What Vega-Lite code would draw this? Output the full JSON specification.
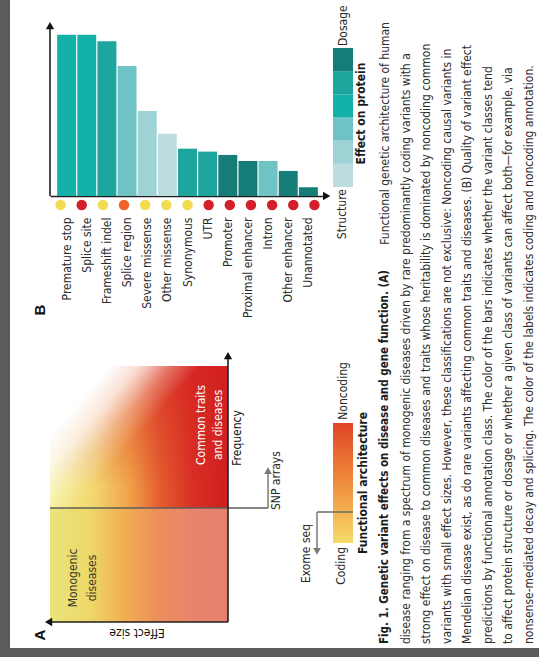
{
  "$schema": "https://vega.github.io/schema/vega-lite/v6.json",
  "width": 529,
  "height": 648,
  "padding": {"left": 10, "top": 0, "right": 0, "bottom": 9},
  "background": "#5b5b5d",
  "view": {"fill": "#ffffff", "stroke": null},
  "config": {
    "font": "DejaVu Sans Condensed, Liberation Sans Narrow, Liberation Sans, sans-serif",
    "axis": {"labelFont": "DejaVu Sans Condensed, Liberation Sans Narrow, Liberation Sans, sans-serif",
             "titleFont": "DejaVu Sans Condensed, Liberation Sans Narrow, Liberation Sans, sans-serif"}
  },
  "datasets": {
    "variant_classes": [
      {"variant_class": "Premature stop", "prediction_quality": 92.7, "effect_level": 4, "annotation": "Coding"},
      {"variant_class": "Splice site", "prediction_quality": 92.7, "effect_level": 4, "annotation": "Noncoding"},
      {"variant_class": "Frameshift indel", "prediction_quality": 88.9, "effect_level": 5, "annotation": "Coding"},
      {"variant_class": "Splice region", "prediction_quality": 74.7, "effect_level": 3, "annotation": "Mixed"},
      {"variant_class": "Severe missense", "prediction_quality": 48.9, "effect_level": 2, "annotation": "Coding"},
      {"variant_class": "Other missense", "prediction_quality": 35.8, "effect_level": 1, "annotation": "Coding"},
      {"variant_class": "Synonymous", "prediction_quality": 27.2, "effect_level": 5, "annotation": "Coding"},
      {"variant_class": "UTR", "prediction_quality": 25.5, "effect_level": 5, "annotation": "Noncoding"},
      {"variant_class": "Promoter", "prediction_quality": 23.6, "effect_level": 6, "annotation": "Noncoding"},
      {"variant_class": "Proximal enhancer", "prediction_quality": 20.1, "effect_level": 6, "annotation": "Noncoding"},
      {"variant_class": "Intron", "prediction_quality": 20.1, "effect_level": 3, "annotation": "Noncoding"},
      {"variant_class": "Other enhancer", "prediction_quality": 14.4, "effect_level": 6, "annotation": "Noncoding"},
      {"variant_class": "Unannotated", "prediction_quality": 5.0, "effect_level": 6, "annotation": "Noncoding"}
    ],
    "effect_levels": [
      {"level": 1, "effect": "Structure"},
      {"level": 2, "effect": ""},
      {"level": 3, "effect": ""},
      {"level": 4, "effect": ""},
      {"level": 5, "effect": ""},
      {"level": 6, "effect": "Dosage"}
    ],
    "caption_lines": [
      {"line": 1, "heading": "Fig. 1. Genetic variant effects on disease and gene function. (A)", "body": "Functional genetic architecture of human"},
      {"line": 2, "heading": "", "body": "disease ranging from a spectrum of monogenic diseases driven by rare predominantly coding variants with a"},
      {"line": 3, "heading": "", "body": "strong effect on disease to common diseases and traits whose heritability is dominated by noncoding common"},
      {"line": 4, "heading": "", "body": "variants with small effect sizes. However, these classifications are not exclusive: Noncoding causal variants in"},
      {"line": 5, "heading": "", "body": "Mendelian disease exist, as do rare variants affecting common traits and diseases. (B) Quality of variant effect"},
      {"line": 6, "heading": "", "body": "predictions by functional annotation class. The color of the bars indicates whether the variant classes tend"},
      {"line": 7, "heading": "", "body": "to affect protein structure or dosage or whether a given class of variants can affect both\u2014for example, via"},
      {"line": 8, "heading": "", "body": "nonsense-mediated decay and splicing. The color of the labels indicates coding and noncoding annotation."}
    ]
  },
  "layer": [
    {
      "layer": [
        {
          "data": {"name": "variant_classes"},
          "mark": {"type": "bar"},
          "encoding": {
            "x": {"field": "variant_class", "type": "nominal", "sort": null,
                  "scale": {"range": [40, 315], "paddingInner": 0.06, "paddingOuter": 0.355},
                  "axis": {"orient": "bottom", "offset": -452, "title": null, "labelAngle": -90, "labelPadding": 21,
                           "ticks": false, "domainColor": "#1f1f1f", "domainWidth": 1.6, "labelFontSize": 12,
                           "labelColor": "#2b2b2b", "labelLimit": 200}},
            "y": {"field": "prediction_quality", "type": "quantitative",
                  "scale": {"domain": [0, 112.64], "range": [196, 0], "nice": false, "zero": true},
                  "axis": {"orient": "left", "offset": -40, "title": "Effect prediction quality", "domain": false,
                           "ticks": false, "labels": false, "grid": false, "titleFontSize": 12.5,
                           "titleFontWeight": "bold", "titleColor": "#111111", "titlePadding": 5, "titleY": 112}},
            "color": {"field": "effect_level", "type": "ordinal",
                      "scale": {"domain": [1, 2, 3, 4, 5, 6],
                                "range": ["#bddcdf", "#9fd2d5", "#6fc3c4", "#14b1a9", "#1ea59e", "#167c77"]},
                      "legend": null}
          }
        },
        {
          "data": {"name": "variant_classes"},
          "mark": {"type": "circle", "size": 110, "opacity": 1},
          "encoding": {
            "x": {"field": "variant_class", "type": "nominal", "sort": null,
                  "scale": {"range": [40, 315], "paddingInner": 0.06, "paddingOuter": 0.355}, "axis": null},
            "y": {"datum": -5.2, "type": "quantitative", "axis": null},
            "color": {"field": "annotation", "type": "nominal",
                      "scale": {"domain": ["Coding", "Mixed", "Noncoding"], "range": ["#f1dc52", "#f2622a", "#d4202a"]},
                      "legend": null}
          }
        },
        {
          "data": {"values": [{"axis": "Effect prediction quality"}]},
          "mark": {"type": "rule", "color": "#1f1f1f", "strokeWidth": 1.6},
          "encoding": {
            "x": {"datum": 0, "type": "quantitative", "scale": {"domain": [0, 1], "range": [40, 315]}, "axis": null},
            "y": {"datum": 0, "type": "quantitative", "axis": null},
            "y2": {"datum": 96}
          }
        },
        {
          "data": {"values": [{"axis": "Effect prediction quality"}]},
          "mark": {"type": "point", "shape": "triangle-up", "filled": true, "size": 70, "color": "#111111", "opacity": 1},
          "encoding": {
            "x": {"datum": 0, "type": "quantitative", "scale": {"domain": [0, 1], "range": [40, 315]}, "axis": null},
            "y": {"datum": 97.9, "type": "quantitative", "axis": null}
          }
        },
        {
          "data": {"values": [{"axis": "Variant class"}]},
          "mark": {"type": "point", "shape": "triangle-right", "filled": true, "size": 70, "color": "#111111", "opacity": 1},
          "encoding": {
            "x": {"datum": 1.006, "type": "quantitative", "scale": {"domain": [0, 1], "range": [40, 315]}, "axis": null},
            "y": {"datum": 0, "type": "quantitative", "axis": null}
          }
        },
        {
          "data": {"values": [{"panel": "B"}]},
          "mark": {"type": "text", "angle": 270, "align": "center", "baseline": "middle",
                   "fontSize": 15, "fontWeight": "bold", "font": "Liberation Sans", "color": "#111111"},
          "encoding": {
            "x": {"datum": -0.036, "type": "quantitative", "scale": {"domain": [0, 1], "range": [40, 315]}, "axis": null},
            "y": {"datum": -65.5, "type": "quantitative", "axis": null},
            "text": {"field": "panel"}
          }
        }
      ],
      "resolve": {"scale": {"x": "independent", "color": "independent"}, "axis": {"x": "independent"}}
    },
    {
      "layer": [
        {
          "data": {"name": "effect_levels"},
          "mark": {"type": "rect"},
          "encoding": {
            "x": {"datum": 0, "type": "quantitative", "scale": {"domain": [0, 1], "range": [323, 343]}, "axis": null},
            "x2": {"datum": 1},
            "y": {"field": "level", "type": "ordinal",
                  "scale": {"domain": [6, 5, 4, 3, 2, 1], "range": [48, 187], "paddingInner": 0, "paddingOuter": 0},
                  "axis": null},
            "color": {"field": "level", "type": "ordinal",
                      "scale": {"domain": [1, 2, 3, 4, 5, 6],
                                "range": ["#bddcdf", "#9fd2d5", "#6fc3c4", "#14b1a9", "#1ea59e", "#167c77"]},
                      "legend": null}
          }
        },
        {
          "data": {"name": "effect_levels"},
          "transform": [{"filter": "datum.level == 6"}],
          "mark": {"type": "text", "angle": 270, "align": "left", "baseline": "middle", "dx": 2,
                   "fontSize": 12, "color": "#2b2b2b"},
          "encoding": {
            "x": {"datum": 0.5, "type": "quantitative", "axis": null},
            "y": {"field": "level", "type": "ordinal", "bandPosition": 0, "axis": null},
            "text": {"field": "effect"}
          }
        },
        {
          "data": {"name": "effect_levels"},
          "transform": [{"filter": "datum.level == 1"}],
          "mark": {"type": "text", "angle": 270, "align": "right", "baseline": "middle", "dx": -2,
                   "fontSize": 12, "color": "#2b2b2b"},
          "encoding": {
            "x": {"datum": 0.45, "type": "quantitative", "axis": null},
            "y": {"field": "level", "type": "ordinal", "bandPosition": 1, "axis": null},
            "text": {"field": "effect"}
          }
        },
        {
          "data": {"values": [{"title": "Effect on protein"}]},
          "mark": {"type": "text", "angle": 270, "align": "center", "baseline": "middle", "dx": 4,
                   "fontSize": 12, "fontWeight": "bold", "color": "#1a1a1a"},
          "encoding": {
            "x": {"datum": 1.4, "type": "quantitative", "axis": null},
            "y": {"datum": 4, "type": "ordinal", "bandPosition": 1, "axis": null},
            "text": {"field": "title"}
          }
        }
      ]
    },
    {
      "layer": [
        {
          "data": {"values": [{"region": "rare variants"}]},
          "mark": {"type": "rect", "fill": {"gradient": "linear", "x1": 0, "y1": 0, "x2": 1, "y2": 0,
                   "stops": [{"offset": 0, "color": "#e9e57a"}, {"offset": 0.22, "color": "#eed868"},
                             {"offset": 0.42, "color": "#f0ae52"}, {"offset": 0.6, "color": "#ec9058"},
                             {"offset": 0.8, "color": "#e8846c"}, {"offset": 1, "color": "#e6806e"}]}},
          "encoding": {
            "x": {"datum": 1, "type": "quantitative", "scale": {"domain": [0, 1], "range": [218, 40], "nice": false}, "axis": null},
            "x2": {"datum": 0},
            "y": {"datum": 0, "type": "quantitative", "scale": {"domain": [0, 1], "range": [622, 366], "nice": false}, "axis": null},
            "y2": {"datum": 0.445}
          }
        },
        {
          "data": {"values": [{"region": "common variants"}]},
          "mark": {"type": "rect", "fill": {"gradient": "linear", "x1": 0, "y1": 0, "x2": 1, "y2": 0,
                   "stops": [{"offset": 0, "color": "#f3ee8c"}, {"offset": 0.25, "color": "#f3d670"},
                             {"offset": 0.45, "color": "#f0a048"}, {"offset": 0.62, "color": "#e45c30"},
                             {"offset": 0.8, "color": "#d83024"}, {"offset": 1, "color": "#cf1e20"}]}},
          "encoding": {
            "x": {"datum": 1, "type": "quantitative", "axis": null},
            "x2": {"datum": 0},
            "y": {"datum": 0.445, "type": "quantitative", "axis": null},
            "y2": {"datum": 1}
          }
        },
        {
          "data": {"values": [{"region": "common variants"}]},
          "mark": {"type": "rect", "fill": {"gradient": "linear", "x1": 0, "y1": 0, "x2": 0, "y2": 1,
                   "stops": [{"offset": 0, "color": "rgba(212,32,32,0.55)"}, {"offset": 0.45, "color": "rgba(212,32,32,0.25)"},
                             {"offset": 0.85, "color": "rgba(212,32,32,0)"}, {"offset": 1, "color": "rgba(212,32,32,0)"}]}},
          "encoding": {
            "x": {"datum": 1, "type": "quantitative", "axis": null},
            "x2": {"datum": 0},
            "y": {"datum": 0.445, "type": "quantitative", "axis": null},
            "y2": {"datum": 1}
          }
        },
        {
          "data": {"values": [{"region": "common variants"}]},
          "mark": {"type": "rect", "fill": {"gradient": "linear", "x1": 0, "y1": 0, "x2": 1.4, "y2": 1,
                   "stops": [{"offset": 0, "color": "rgba(255,255,255,1)"}, {"offset": 0.16, "color": "rgba(255,255,255,1)"},
                             {"offset": 0.24, "color": "rgba(255,255,255,0.78)"}, {"offset": 0.32, "color": "rgba(255,255,255,0.3)"},
                             {"offset": 0.4, "color": "rgba(255,255,255,0)"}, {"offset": 1, "color": "rgba(255,255,255,0)"}]}},
          "encoding": {
            "x": {"datum": 1, "type": "quantitative", "axis": null},
            "x2": {"datum": 0},
            "y": {"datum": 0.445, "type": "quantitative", "axis": null},
            "y2": {"datum": 1}
          }
        },
        {
          "data": {"values": [{"method": "SNP arrays"}]},
          "mark": {"type": "rule", "color": "#5e5e5e", "strokeWidth": 1.5},
          "encoding": {
            "x": {"datum": 1, "type": "quantitative", "axis": null},
            "x2": {"datum": -0.225},
            "y": {"datum": 0.445, "type": "quantitative", "axis": null}
          }
        },
        {
          "data": {"values": [{"method": "SNP arrays"}]},
          "mark": {"type": "rule", "color": "#7a7a7a", "strokeWidth": 1.5},
          "encoding": {
            "x": {"datum": -0.225, "type": "quantitative", "axis": null},
            "y": {"datum": 0.445, "type": "quantitative", "axis": null},
            "y2": {"datum": 0.58}
          }
        },
        {
          "data": {"values": [{"method": "SNP arrays"}]},
          "mark": {"type": "point", "shape": "triangle-up", "filled": true, "size": 60, "color": "#7a7a7a", "opacity": 1},
          "encoding": {
            "x": {"datum": -0.225, "type": "quantitative", "axis": null},
            "y": {"datum": 0.591, "type": "quantitative", "axis": null}
          }
        },
        {
          "data": {"values": [{"axis": "Frequency"}]},
          "mark": {"type": "rule", "color": "#1f1f1f", "strokeWidth": 1.6},
          "encoding": {
            "x": {"datum": 0, "type": "quantitative", "axis": null},
            "y": {"datum": 0, "type": "quantitative", "axis": null},
            "y2": {"datum": 1.03}
          }
        },
        {
          "data": {"values": [{"axis": "Frequency"}]},
          "mark": {"type": "point", "shape": "triangle-up", "filled": true, "size": 70, "color": "#111111", "opacity": 1},
          "encoding": {
            "x": {"datum": 0, "type": "quantitative", "axis": null},
            "y": {"datum": 1.041, "type": "quantitative", "axis": null}
          }
        },
        {
          "data": {"values": [{"axis": "Effect size"}]},
          "mark": {"type": "rule", "color": "#1f1f1f", "strokeWidth": 1.6},
          "encoding": {
            "x": {"datum": 0, "type": "quantitative", "axis": null},
            "x2": {"datum": 1},
            "y": {"datum": 0, "type": "quantitative", "axis": null}
          }
        },
        {
          "data": {"values": [{"axis": "Effect size"}]},
          "mark": {"type": "point", "shape": "triangle-left", "filled": true, "size": 70, "color": "#111111", "opacity": 1},
          "encoding": {
            "x": {"datum": 1.008, "type": "quantitative", "axis": null},
            "y": {"datum": 0, "type": "quantitative", "axis": null}
          }
        },
        {
          "data": {"values": [{"region": "Monogenic diseases"}]},
          "mark": {"type": "text", "text": ["Monogenic", "diseases"], "angle": 270, "align": "center",
                   "baseline": "middle", "lineHeight": 19, "fontSize": 12, "color": "#3a3a2a"},
          "encoding": {
            "x": {"datum": 0.871, "type": "quantitative", "axis": null},
            "y": {"datum": 0.172, "type": "quantitative", "axis": null}
          }
        },
        {
          "data": {"values": [{"region": "Common traits and diseases"}]},
          "mark": {"type": "text", "text": ["Common traits", "and diseases"], "angle": 270, "align": "center",
                   "baseline": "middle", "lineHeight": 17, "fontSize": 12, "color": "#ffffff"},
          "encoding": {
            "x": {"datum": 0.149, "type": "quantitative", "axis": null},
            "y": {"datum": 0.77, "type": "quantitative", "axis": null}
          }
        },
        {
          "data": {"values": [{"label": "Frequency"}]},
          "mark": {"type": "text", "angle": 270, "align": "center", "baseline": "middle", "fontSize": 12, "color": "#111111"},
          "encoding": {
            "x": {"datum": -0.053, "type": "quantitative", "axis": null},
            "y": {"datum": 0.719, "type": "quantitative", "axis": null},
            "text": {"field": "label"}
          }
        },
        {
          "data": {"values": [{"label": "SNP arrays"}]},
          "mark": {"type": "text", "angle": 270, "align": "left", "baseline": "middle", "fontSize": 12, "color": "#2b2b2b"},
          "encoding": {
            "x": {"datum": -0.272, "type": "quantitative", "axis": null},
            "y": {"datum": 0.4375, "type": "quantitative", "axis": null},
            "text": {"field": "label"}
          }
        },
        {
          "data": {"values": [{"label": "Effect size"}]},
          "mark": {"type": "text", "angle": 180, "align": "center", "baseline": "middle", "fontSize": 12, "color": "#111111"},
          "encoding": {
            "x": {"datum": 0.511, "type": "quantitative", "axis": null},
            "y": {"datum": -0.043, "type": "quantitative", "axis": null},
            "text": {"field": "label"}
          }
        },
        {
          "data": {"values": [{"panel": "A"}]},
          "mark": {"type": "text", "angle": 270, "align": "center", "baseline": "middle",
                   "fontSize": 15, "fontWeight": "bold", "font": "Liberation Sans", "color": "#111111"},
          "encoding": {
            "x": {"datum": 1.056, "type": "quantitative", "axis": null},
            "y": {"datum": -0.051, "type": "quantitative", "axis": null},
            "text": {"field": "panel"}
          }
        }
      ]
    },
    {
      "layer": [
        {
          "data": {"values": [{"scale": "Functional architecture"}]},
          "mark": {"type": "rect", "fill": {"gradient": "linear", "x1": 0, "y1": 0, "x2": 0, "y2": 1,
                   "stops": [{"offset": 0, "color": "#df4528"}, {"offset": 0.45, "color": "#ee8638"},
                             {"offset": 0.75, "color": "#f3b450"}, {"offset": 1, "color": "#f5dc6a"}]}},
          "encoding": {
            "x": {"datum": 0, "type": "quantitative", "scale": {"domain": [0, 1], "range": [323, 343], "nice": false}, "axis": null},
            "x2": {"datum": 1},
            "y": {"datum": 0.309, "type": "quantitative", "scale": {"domain": [0, 1], "range": [622, 366], "nice": false}, "axis": null},
            "y2": {"datum": 0.777}
          }
        },
        {
          "data": {"values": [{"method": "Exome seq"}]},
          "mark": {"type": "rule", "color": "#6a6a6a", "strokeWidth": 1.5},
          "encoding": {
            "x": {"datum": 1, "type": "quantitative", "axis": null},
            "x2": {"datum": -0.8},
            "y": {"datum": 0.43, "type": "quantitative", "axis": null}
          }
        },
        {
          "data": {"values": [{"method": "Exome seq"}]},
          "mark": {"type": "rule", "color": "#7a7a7a", "strokeWidth": 1.5},
          "encoding": {
            "x": {"datum": -0.8, "type": "quantitative", "axis": null},
            "y": {"datum": 0.43, "type": "quantitative", "axis": null},
            "y2": {"datum": 0.285}
          }
        },
        {
          "data": {"values": [{"method": "Exome seq"}]},
          "mark": {"type": "point", "shape": "triangle-down", "filled": true, "size": 60, "color": "#7a7a7a", "opacity": 1},
          "encoding": {
            "x": {"datum": -0.8, "type": "quantitative", "axis": null},
            "y": {"datum": 0.276, "type": "quantitative", "axis": null}
          }
        },
        {
          "data": {"values": [{"label": "Exome seq"}]},
          "mark": {"type": "text", "angle": 270, "align": "left", "baseline": "middle", "fontSize": 12, "color": "#2b2b2b"},
          "encoding": {
            "x": {"datum": -1.35, "type": "quantitative", "axis": null},
            "y": {"datum": 0.152, "type": "quantitative", "axis": null},
            "text": {"field": "label"}
          }
        },
        {
          "data": {"values": [{"label": "Noncoding"}]},
          "mark": {"type": "text", "angle": 270, "align": "left", "baseline": "middle", "fontSize": 12, "color": "#2b2b2b"},
          "encoding": {
            "x": {"datum": 0.5, "type": "quantitative", "axis": null},
            "y": {"datum": 0.79, "type": "quantitative", "axis": null},
            "text": {"field": "label"}
          }
        },
        {
          "data": {"values": [{"label": "Coding"}]},
          "mark": {"type": "text", "angle": 270, "align": "right", "baseline": "middle", "fontSize": 12, "color": "#2b2b2b"},
          "encoding": {
            "x": {"datum": 0.4, "type": "quantitative", "axis": null},
            "y": {"datum": 0.293, "type": "quantitative", "axis": null},
            "text": {"field": "label"}
          }
        },
        {
          "data": {"values": [{"label": "Functional architecture"}]},
          "mark": {"type": "text", "angle": 270, "align": "center", "baseline": "middle", "fontSize": 12,
                   "fontWeight": "bold", "color": "#1a1a1a"},
          "encoding": {
            "x": {"datum": 1.475, "type": "quantitative", "axis": null},
            "y": {"datum": 0.543, "type": "quantitative", "axis": null},
            "text": {"field": "label"}
          }
        }
      ]
    },
    {
      "data": {"name": "caption_lines"},
      "layer": [
        {
          "transform": [{"filter": "datum.line == 1"}],
          "mark": {"type": "text", "angle": 270, "align": "left", "baseline": "middle", "dx": 4,
                   "fontSize": 11.5, "fontWeight": "bold", "color": "#1e1e1e"},
          "encoding": {
            "x": {"field": "line", "type": "ordinal", "scale": {"range": [365, 529], "paddingInner": 0, "paddingOuter": 0}, "axis": null},
            "y": {"datum": 0, "type": "quantitative", "scale": {"domain": [0, 1], "range": [648, 0]}, "axis": null},
            "text": {"field": "heading"}
          }
        },
        {
          "transform": [{"filter": "datum.line == 1"}],
          "mark": {"type": "text", "angle": 270, "align": "right", "baseline": "middle",
                   "fontSize": 12, "color": "#2e2e2e"},
          "encoding": {
            "x": {"field": "line", "type": "ordinal", "axis": null},
            "y": {"datum": 0.966, "type": "quantitative", "axis": null},
            "text": {"field": "body"}
          }
        },
        {
          "transform": [{"filter": "datum.line > 1"}],
          "mark": {"type": "text", "angle": 270, "align": "left", "baseline": "middle", "dx": 4,
                   "fontSize": 12, "color": "#2e2e2e"},
          "encoding": {
            "x": {"field": "line", "type": "ordinal", "axis": null},
            "y": {"datum": 0, "type": "quantitative", "axis": null},
            "text": {"field": "body"}
          }
        }
      ]
    }
  ],
  "resolve": {"scale": {"x": "independent", "y": "independent", "color": "independent"},
              "axis": {"x": "independent", "y": "independent"}}
}
